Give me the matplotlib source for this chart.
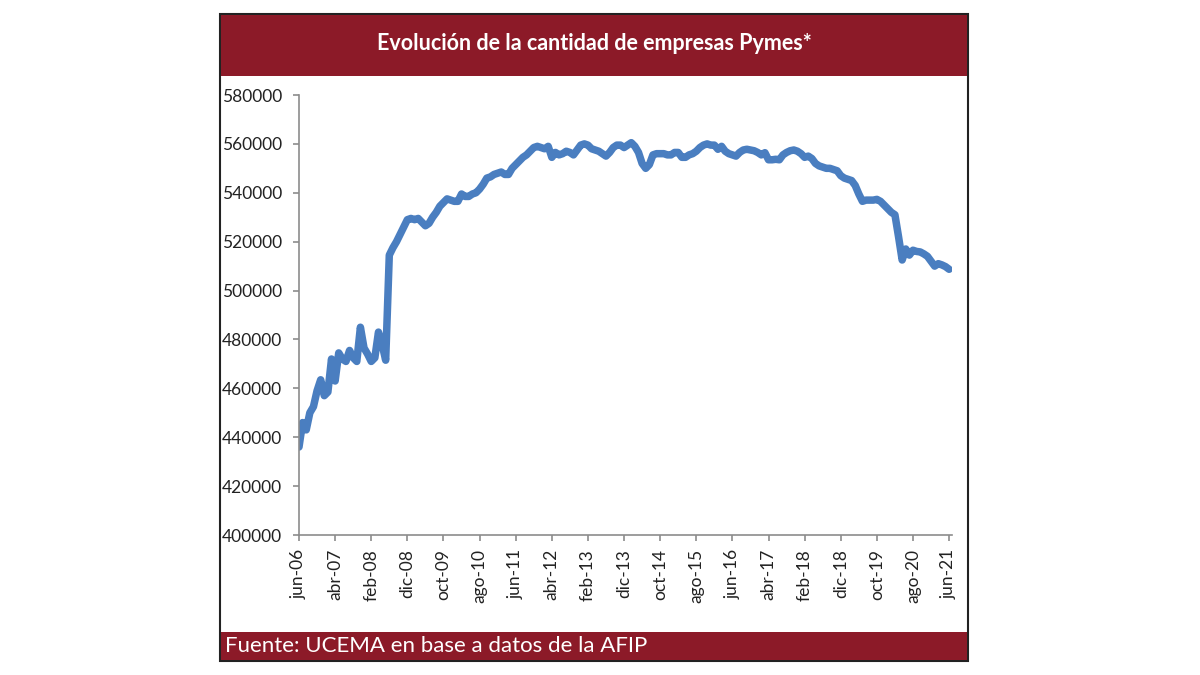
import numpy as np
import matplotlib
matplotlib.use("Agg")
import matplotlib.pyplot as plt
from matplotlib.patches import Rectangle

# cantidad de empresas pymes, mensual desde jun-06 hasta jun-21
pymes = [
    436000, 446000, 443000, 450000, 452500, 459000, 463500, 457000, 458500, 472000,
    463000, 474500, 472000, 471000, 475500, 472500, 471000, 485000, 476500, 474000,
    471000, 472500, 483000, 478000, 471500, 514500, 517500, 520000, 523000, 526000,
    529000, 529500, 529000, 529500, 528000, 526500, 527500, 530000, 532000, 534500,
    536000, 537500, 537000, 536500, 536500, 539500, 538500, 538500, 539500, 540000,
    541500, 543500, 546000, 546500, 547500, 548000, 548500, 547500, 547500, 550000,
    551500, 553000, 554500, 555500, 557000, 558500, 559000, 558500, 558000, 559000,
    554500, 556500, 555500, 556000, 557000, 556500, 555500, 557500, 559500, 560000,
    559500, 558000, 557500, 557000, 556000, 555000, 556500, 558500, 559500, 559500,
    558500, 559500, 560500, 559000, 556500, 552000, 550000, 551500, 555500, 556000,
    556000, 556000, 555500, 555500, 556500, 556500, 554500, 554500, 555500, 556000,
    557000, 558500, 559500, 560000, 559500, 559500, 557800, 559000, 557000, 556000,
    555500, 555000, 556500, 557500, 557800, 557500, 557200, 556500, 555500, 556400,
    553500, 553500, 553700, 553500, 555500, 556500, 557200, 557500, 557000, 556000,
    554500, 555000, 554000, 552000, 551000, 550500, 550000, 550000, 549500, 549000,
    547000, 546000, 545500, 545000, 543000, 539500, 536500, 537000, 537000, 537000,
    537300, 536500, 535000, 533500, 532000, 531000, 522000, 512500, 517000, 514500,
    516500, 516000, 515800, 515000, 514000, 512000, 510000, 511000, 510500, 509800,
    508700,
]

tick_labels = ["jun-06", "abr-07", "feb-08", "dic-08", "oct-09", "ago-10", "jun-11",
               "abr-12", "feb-13", "dic-13", "oct-14", "ago-15", "jun-16", "abr-17",
               "feb-18", "dic-18", "oct-19", "ago-20", "jun-21"]
tick_pos = np.arange(0, 10 * len(tick_labels), 10)

titulo = "Evolución de la cantidad de empresas Pymes*"
fuente = "Fuente: UCEMA en base a datos de la AFIP"

rojo = "#8C1A28"
azul = "#4A7EC0"

plt.rcParams["font.family"] = ["Lato", "DejaVu Sans"]

fig = plt.figure(figsize=(12, 6.75), dpi=100)
W, H = 1200, 675

def fig_rect(x0, y0, x1, y1, **kw):
    # rectangulo en pixeles (origen arriba a la izquierda)
    r = Rectangle((x0 / W, 1 - y1 / H), (x1 - x0) / W, (y1 - y0) / H,
                  transform=fig.transFigure, **kw)
    fig.patches.append(r)

# marco, banner del titulo y pie
fig_rect(220, 14, 968, 661, facecolor="white", edgecolor="#222222", linewidth=1.5, zorder=-2)
fig_rect(221, 15, 967, 76, facecolor=rojo, edgecolor="none", zorder=-1)
fig_rect(221, 632, 967, 660, facecolor=rojo, edgecolor="none", zorder=-1)
fig.text(594 / W, 1 - 44 / H, titulo, color="white", fontsize=15.5, fontweight="bold",
         ha="center", va="center")
fig.text(225 / W, 1 - 646 / H, fuente, color="white", fontsize=16,
         ha="left", va="center")

ax = fig.add_axes([299 / W, 1 - 535 / H, (952 - 299) / W, (535 - 95) / H])
ax.set_zorder(2)
ax.patch.set_alpha(0)
ax.plot(np.arange(len(pymes)), pymes, color=azul, linewidth=5.4, solid_capstyle="round",
        solid_joinstyle="round")

ax.set_ylim(400000, 580000)
ax.set_yticks(np.arange(400000, 580001, 20000))
ax.set_xlim(0, 180.8)
ax.set_xticks(tick_pos)
ax.set_xticklabels(tick_labels, rotation=90)

for s in ["top", "right"]:
    ax.spines[s].set_visible(False)
for s in ["left", "bottom"]:
    ax.spines[s].set_color("#8C8C8C")
    ax.spines[s].set_linewidth(1.2)
ax.tick_params(axis="both", colors="#8C8C8C", length=4, width=1.2, labelsize=12.5,
               labelcolor="#222222")
ax.tick_params(axis="y", pad=8)
ax.tick_params(axis="x", pad=6)

fig.savefig("out.png", dpi=100)
